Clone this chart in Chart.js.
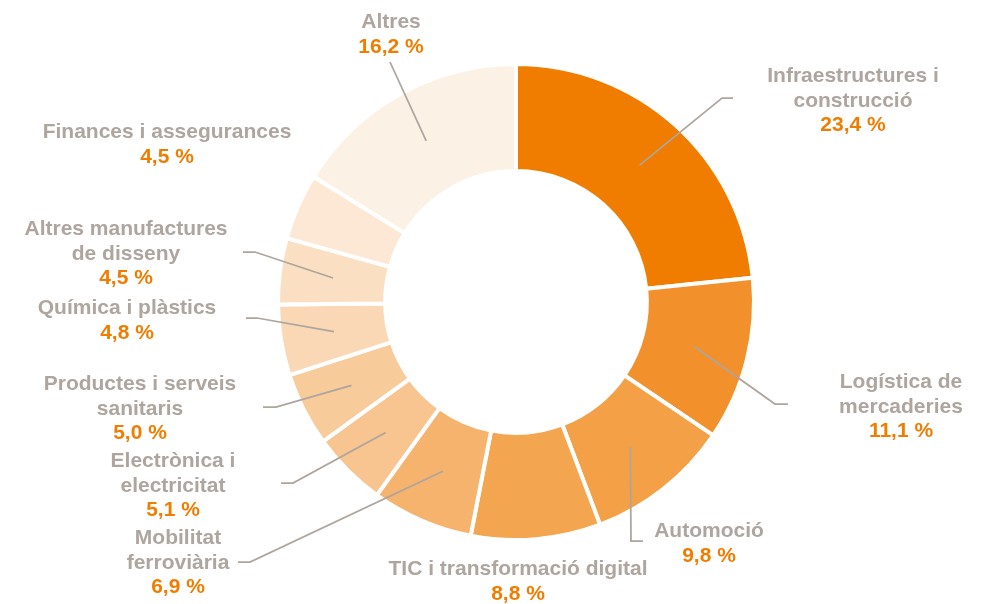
<!DOCTYPE html>
<html>
<head>
<meta charset="utf-8">
<script src="https://cdn.jsdelivr.net/npm/chart.js@4"></script>
<style>
  html, body { margin: 0; padding: 0; background: #fff; }
  #wrap { width: 983px; height: 604px; }
</style>
</head>
<body>
<div id="wrap"><canvas id="sectorsChart" width="983" height="604"></canvas></div>
<script>
const categories = [
    'Infraestructures i\nconstrucció',
    'Logística de\nmercaderies',
    'Automoció',
    'TIC i transformació digital',
    'Mobilitat\nferroviària',
    'Electrònica i\nelectricitat',
    'Productes i serveis\nsanitaris',
    'Química i plàstics',
    'Altres manufactures\nde disseny',
    'Finances i assegurances',
    'Altres'
];
const shares = [23.4, 11.1, 9.8, 8.8, 6.9, 5.1, 5.0, 4.8, 4.5, 4.5, 16.2];
const sliceColors = [
    '#F07D00', '#F2912B', '#F4A047', '#F4A54F', '#F5B36D', '#F8C48F',
    '#F8CB9A', '#FAD8B6', '#FBDFC2', '#FCE8D4', '#FCF1E5'
];

// where each label sits (centre x, first baseline) and its leader line (elbow, end)
const labelLayout = [
    { x: 853, y: 82,  line: [[722, 98], [733, 98]] },
    { x: 901, y: 388, line: [[775, 404], [788, 404]] },
    { x: 709, y: 537, line: [[631, 541], [643, 541]] },
    { x: 518, y: 575, line: null },
    { x: 178, y: 544, line: [[250, 562], [238, 562]] },
    { x: 173, y: 467, line: [[293, 483], [281, 483]] },
    { x: 140, y: 390, line: [[276, 407], [263, 407]] },
    { x: 127, y: 314, line: [[257, 318], [246, 318]] },
    { x: 126, y: 235, line: [[255, 252], [243, 252]] },
    { x: 167, y: 138, line: null },
    { x: 391, y: 28,  line: [[390, 62]] }
];

const labelGrey = '#ADA59E';
const labelOrange = '#F07D00';
const lineHeight = 24.5;

const calloutPlugin = {
    id: 'callouts',
    afterDatasetsDraw(chart) {
        const ctx = chart.ctx;
        const arcs = chart.getDatasetMeta(0).data;
        ctx.save();

        // leader lines from the middle of each slice
        ctx.strokeStyle = labelGrey;
        ctx.lineWidth = 1.75;
        arcs.forEach((arc, i) => {
            const layout = labelLayout[i];
            if (!layout.line) return;
            const p = arc.getCenterPoint();
            ctx.beginPath();
            ctx.moveTo(p.x, p.y);
            layout.line.forEach(pt => ctx.lineTo(pt[0], pt[1]));
            ctx.stroke();
        });

        // category names and percentages
        ctx.font = 'bold 21px "Liberation Sans", Arial, sans-serif';
        ctx.textAlign = 'center';
        ctx.textBaseline = 'alphabetic';
        categories.forEach((name, i) => {
            const layout = labelLayout[i];
            const lines = name.split('\n');
            ctx.fillStyle = labelGrey;
            lines.forEach((txt, j) => {
                ctx.fillText(txt, layout.x, layout.y + j * lineHeight);
            });
            ctx.fillStyle = labelOrange;
            const pct = shares[i].toFixed(1).replace('.', ',') + ' %';
            ctx.fillText(pct, layout.x, layout.y + lines.length * lineHeight);
        });

        ctx.restore();
    }
};

const ctx = document.getElementById('sectorsChart').getContext('2d');

new Chart(ctx, {
    type: 'doughnut',
    data: {
        labels: categories,
        datasets: [{
            data: shares,
            backgroundColor: sliceColors,
            borderColor: '#FFFFFF',
            borderWidth: 4
        }]
    },
    options: {
        responsive: false,
        animation: false,
        cutout: '55%',
        layout: {
            padding: { left: 276, right: 227, top: 62, bottom: 62 }
        },
        plugins: {
            legend: { display: false },
            tooltip: { enabled: false }
        }
    },
    plugins: [calloutPlugin]
});
</script>
</body>
</html>
